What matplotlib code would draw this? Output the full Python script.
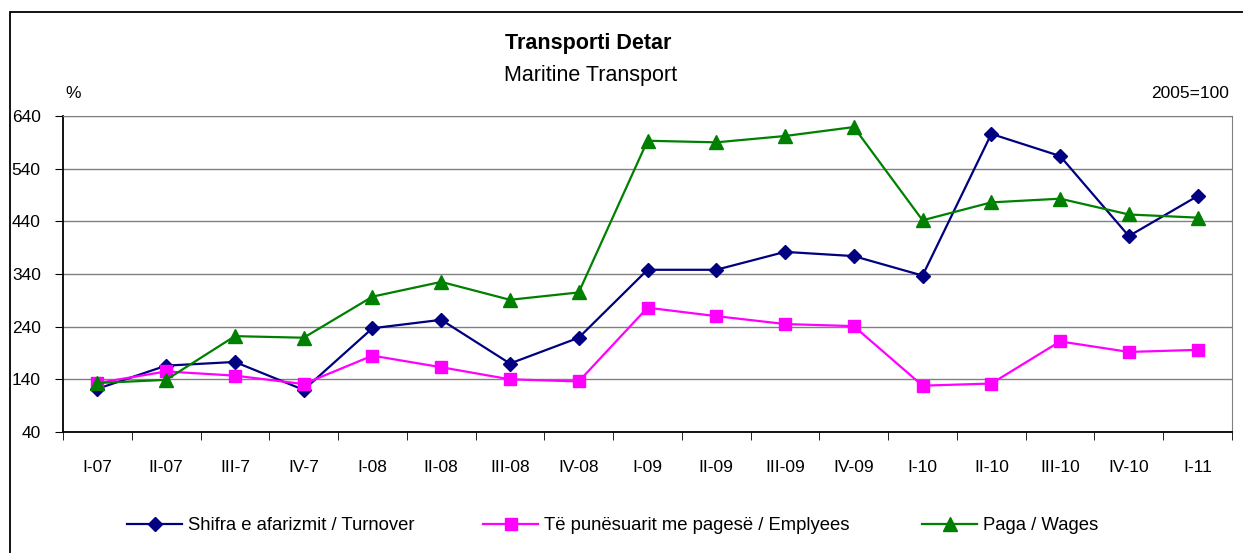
import matplotlib
matplotlib.use("Agg")
import matplotlib.pyplot as plt
from matplotlib.patches import Rectangle

# data (index 2005=100)
periudhat = ["I-07", "II-07", "III-7", "IV-7", "I-08", "II-08", "III-08", "IV-08",
             "I-09", "II-09", "III-09", "IV-09", "I-10", "II-10", "III-10", "IV-10", "I-11"]
turnover = [122, 166, 173, 120, 237, 253, 170, 219,
            348, 348, 382, 374, 337, 606, 564, 412, 488]
employees = [133, 155, 147, 131, 185, 163, 140, 136,
             276, 260, 245, 241, 128, 132, 212, 192, 196]
wages = [133, 139, 222, 219, 297, 325, 291, 305,
         593, 590, 602, 619, 442, 476, 483, 453, 447]
y_ticks = [40, 140, 240, 340, 440, 540, 640]

# fonts
plt.rcParams['font.family'] = ['Liberation Sans', 'DejaVu Sans']

W, H = 1243, 553
fig = plt.figure(figsize=(W / 100, H / 100), dpi=100)

# outer frame (cut off at right and bottom)
fig.add_artist(Rectangle((10 / W, -0.1), 1.2, 1 - 12 / H + 0.1,
                         transform=fig.transFigure, fill=False,
                         edgecolor="black", linewidth=1.3, clip_on=False))

ax = fig.add_axes([63 / W, 1 - 432 / H, (1232 - 63) / W, (432 - 116) / H])

x = list(range(len(periudhat)))
ax.plot(x, turnover, color="#000080", marker="D", markersize=7.5, linewidth=1.6,
        label="Shifra e afarizmit / Turnover", zorder=3)
ax.plot(x, employees, color="#FF00FF", marker="s", markersize=9, linewidth=1.6,
        label="Të punësuarit me pagesë / Emplyees", zorder=4)
ax.plot(x, wages, color="#008000", marker="^", markersize=10, linewidth=1.6,
        label="Paga / Wages", zorder=5)

ax.set_xlim(-0.5, len(periudhat) - 0.5)
ax.set_ylim(40, 640)
ax.set_yticks(y_ticks)
ax.set_yticklabels([str(v) for v in y_ticks], fontsize=12.5)
ax.yaxis.grid(True, color="#808080", linewidth=1)
ax.set_axisbelow(True)

# category labels centered, tick marks between categories
ax.set_xticks(x)
ax.set_xticklabels(periudhat, fontsize=12.5)
ax.tick_params(axis="x", length=0, pad=20)
ax.set_xticks([i - 0.5 for i in range(len(periudhat) + 1)], minor=True)
ax.tick_params(axis="x", which="minor", length=6, direction="out", color="black")
ax.tick_params(axis="y", length=6, direction="out", pad=10)

for s in ["top", "right"]:
    ax.spines[s].set_color("#808080")
for s in ["left", "bottom"]:
    ax.spines[s].set_color("black")
    ax.spines[s].set_linewidth(1.3)

fig.text(588 / W, 1 - 43 / H, "Transporti Detar", ha="center", va="center",
         fontsize=15.5, fontweight="bold")
fig.text(591 / W, 1 - 75 / H, "Maritine Transport", ha="center", va="center",
         fontsize=15.5)
fig.text(65 / W, 1 - 94 / H, "%", ha="left", va="center", fontsize=12.5)
fig.text(1229 / W, 1 - 94 / H, "2005=100", ha="right", va="center", fontsize=12.5)

# legend, each entry placed on its own
lines = ax.get_lines()
starts = [127, 483, 922]
for ln, xs in zip(lines, starts):
    fig.legend([ln], [ln.get_label()], loc="center left",
               bbox_to_anchor=(xs / W, 1 - 526 / H), frameon=False,
               fontsize=13.3, handlelength=3.0, handletextpad=0.3,
               borderaxespad=0, borderpad=0)

fig.savefig("out.png", dpi=100)
